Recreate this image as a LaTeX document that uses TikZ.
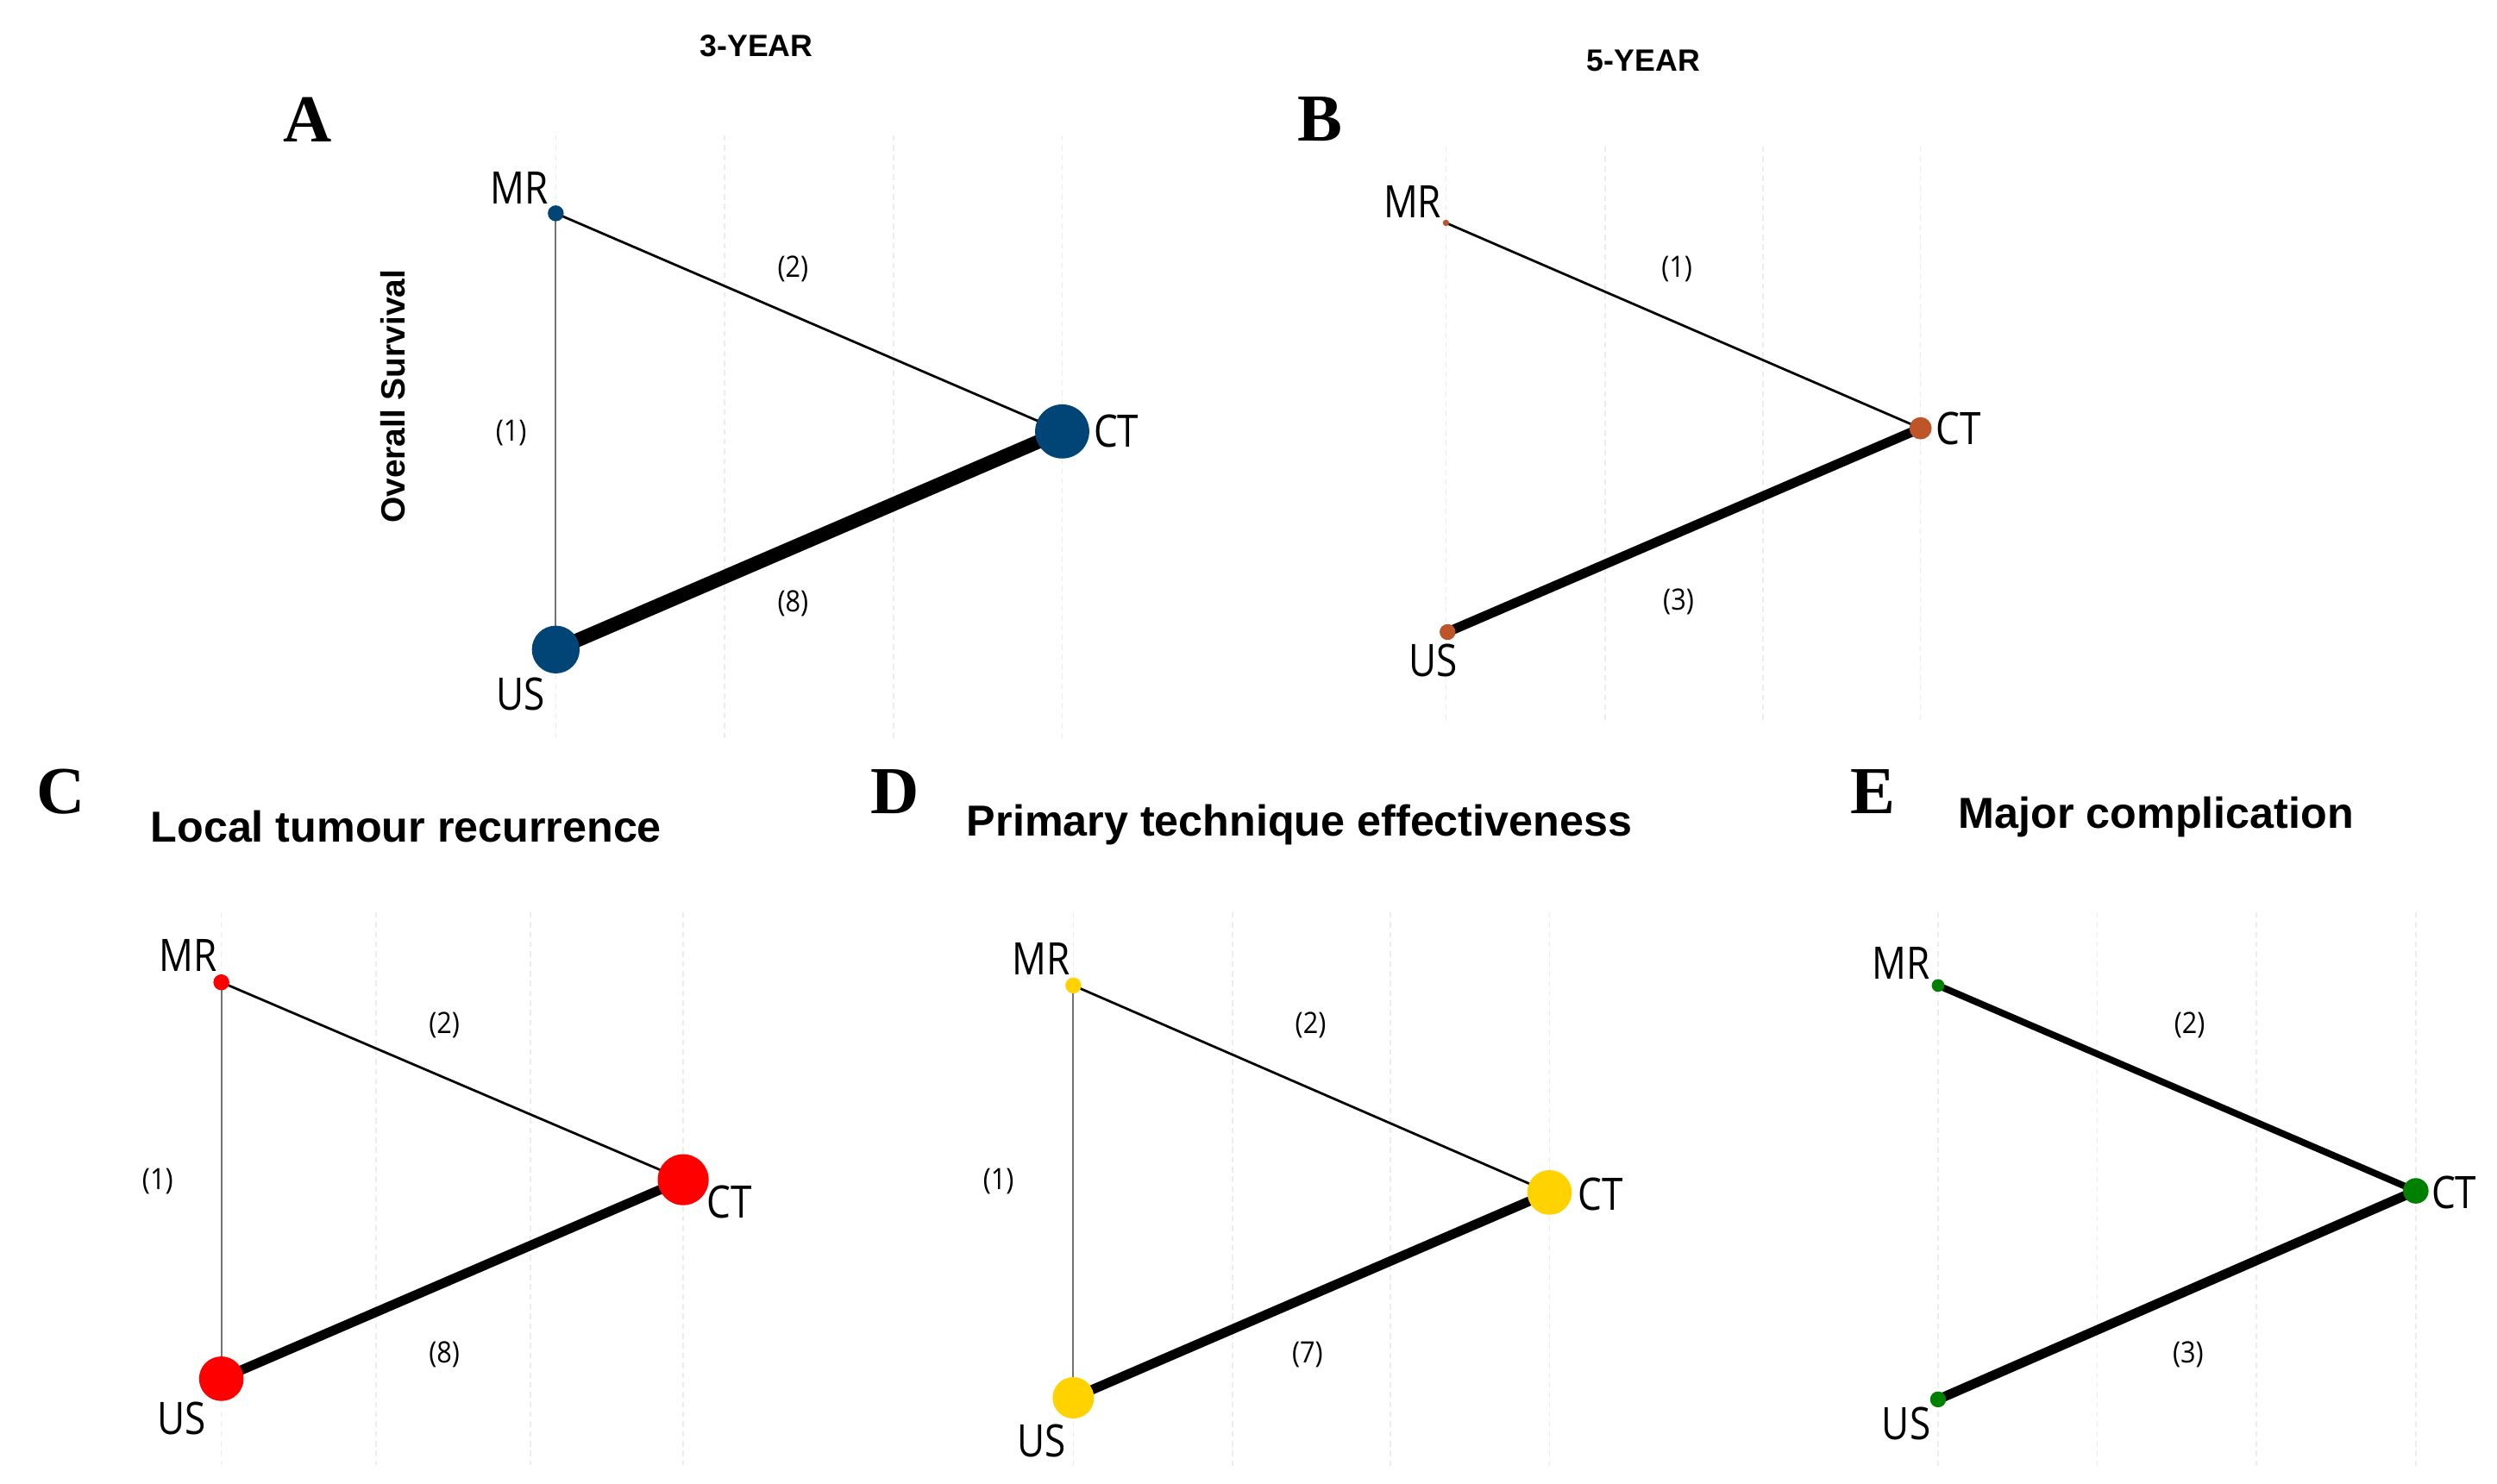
\documentclass[tikz,border=0pt]{standalone}
\usepackage{fontspec}
\setmainfont{Liberation Sans}
\newfontfamily\lblfont{Open Sans}[FakeStretch=0.85]
\newfontfamily\numfont{Open Sans}[FakeStretch=0.9]
\newfontfamily\serfont{Liberation Serif}
\usetikzlibrary{backgrounds}
\definecolor{cA}{RGB}{0,69,117}
\definecolor{cB}{RGB}{190,85,40}
\definecolor{cC}{RGB}{255,0,0}
\definecolor{cD}{RGB}{255,210,0}
\definecolor{cE}{RGB}{0,128,0}
\definecolor{gridc}{RGB}{236,236,236}
\begin{document}
\begin{tikzpicture}[x=0.02cm,y=-0.02cm,
  gridline/.style={draw=gridc, line width=0.5pt, dash pattern=on 2pt off 1.5pt},
  dot/.style={circle, inner sep=0pt, draw=none, minimum size=#1*0.02cm},
  lbl/.style={font=\lblfont\fontsize{16}{16}\selectfont, inner sep=0pt},
  num/.style={font=\numfont\fontsize{10.5}{10.5}\selectfont, inner sep=0pt},
  ttl/.style={font=\bfseries\fontsize{15.5}{16}\selectfont, inner sep=0pt},
  yr/.style={font=\bfseries\fontsize{11}{11}\selectfont, inner sep=0pt},
  plet/.style={font=\serfont\bfseries\fontsize{24}{24}\selectfont, inner sep=0pt},
  thinedge/.style={draw=black, line width=0.85pt},
  grayedge/.style={draw=black!55, line width=0.6pt},
  thickedge/.style={draw=black, line width=#1pt}
]
\useasboundingbox (0,0) rectangle (1568,932);

% ---------------- Panel A ----------------
\node[yr] (yrA) at (475,29) {3-YEAR};
\node[plet] (letA) at (193,75) {A};
\node[font=\bfseries\fontsize{12}{12}\selectfont, rotate=90, inner sep=0pt] (osA) at (247,249) {Overall Survival};
\node[dot=10, fill=cA] (aMR) at (349,134) {};
\node[dot=34, fill=cA] (aCT) at (667,271) {};
\node[dot=30, fill=cA] (aUS) at (349,408) {};
\node[lbl] (aMRl) at (326,118) {MR};
\node[lbl] (aCTl) at (701,271) {CT};
\node[lbl] (aUSl) at (327,436) {US};
\node[num] (aN2) at (498,169) {(2)};
\node[num] (aN1) at (321,272) {(1)};
\node[num] (aN8) at (498,379) {(8)};

% ---------------- Panel B ----------------
\node[yr] (yrB) at (1032,38) {5-YEAR};
\node[plet] (letB) at (829,75) {B};
\node[dot=4, fill=cB] (bMR) at (908,140) {};
\node[dot=14, fill=cB] (bCT) at (1206,269) {};
\node[dot=10, fill=cB] (bUS) at (909,397) {};
\node[lbl] (bMRl) at (887,127) {MR};
\node[lbl] (bCTl) at (1230,269) {CT};
\node[lbl] (bUSl) at (900,415) {US};
\node[num] (bN1) at (1053,169) {(1)};
\node[num] (bN3) at (1054,378) {(3)};

% ---------------- Panel C ----------------
\node[plet] (letC) at (38,497) {C};
\node[ttl] (ttlC) at (255,519) {Local tumour recurrence};
\node[dot=10, fill=cC] (cMR) at (139,617) {};
\node[dot=32, fill=cC] (cCT) at (429,741) {};
\node[dot=28, fill=cC] (cUS) at (139,866) {};
\node[lbl] (cMRl) at (118,600) {MR};
\node[lbl] (cCTl) at (458,755) {CT};
\node[lbl] (cUSl) at (114,891) {US};
\node[num] (cN2) at (279,644) {(2)};
\node[num] (cN1) at (99,742) {(1)};
\node[num] (cN8) at (279,851) {(8)};

% ---------------- Panel D ----------------
\node[plet] (letD) at (562,497) {D};
\node[ttl] (ttlD) at (816,518) {Primary technique effectiveness};
\node[dot=10, fill=cD] (dMR) at (674,619) {};
\node[dot=28, fill=cD] (dCT) at (973,749) {};
\node[dot=26, fill=cD] (dUS) at (674,878) {};
\node[lbl] (dMRl) at (654,602) {MR};
\node[lbl] (dCTl) at (1005,750) {CT};
\node[lbl] (dUSl) at (654,905) {US};
\node[num] (dN2) at (823,644) {(2)};
\node[num] (dN1) at (627,742) {(1)};
\node[num] (dN7) at (821,851) {(7)};

% ---------------- Panel E ----------------
\node[plet] (letE) at (1176,497) {E};
\node[ttl] (ttlE) at (1354,513) {Major complication};
\node[dot=8, fill=cE] (eMR) at (1217,619) {};
\node[dot=16, fill=cE] (eCT) at (1517,748) {};
\node[dot=10, fill=cE] (eUS) at (1217,879) {};
\node[lbl] (eMRl) at (1194,605) {MR};
\node[lbl] (eCTl) at (1541,749) {CT};
\node[lbl] (eUSl) at (1197,894) {US};
\node[num] (eN2) at (1375,644) {(2)};
\node[num] (eN3) at (1374,851) {(3)};

\begin{scope}[on background layer]
  % grid lines
  \foreach \gx in {349,455,561,667} \draw[gridline] (\gx,85) -- (\gx,466);
  \foreach \gx in {908,1008,1107,1206} \draw[gridline] (\gx,92) -- (\gx,453);
  \foreach \gx in {139,236,333,429} \draw[gridline] (\gx,573) -- (\gx,920);
  \foreach \gx in {674,774,873,973} \draw[gridline] (\gx,573) -- (\gx,922);
  \foreach \gx in {1217,1317,1417,1517} \draw[gridline] (\gx,573) -- (\gx,922);
  % edges
  \draw[grayedge] (aMR.center) -- (aUS.center);
  \draw[thinedge] (aMR.center) -- (aCT.center);
  \draw[thickedge=5] (aUS.center) -- (aCT.center);
  \draw[thinedge] (bMR.center) -- (bCT.center);
  \draw[thickedge=3.4] (bUS.center) -- (bCT.center);
  \draw[grayedge] (cMR.center) -- (cUS.center);
  \draw[thinedge] (cMR.center) -- (cCT.center);
  \draw[thickedge=3.4] (cUS.center) -- (cCT.center);
  \draw[grayedge] (dMR.center) -- (dUS.center);
  \draw[thinedge] (dMR.center) -- (dCT.center);
  \draw[thickedge=3.4] (dUS.center) -- (dCT.center);
  \draw[thickedge=2.4] (eMR.center) -- (eCT.center);
  \draw[thickedge=3.4] (eUS.center) -- (eCT.center);
\end{scope}
\end{tikzpicture}
\end{document}
